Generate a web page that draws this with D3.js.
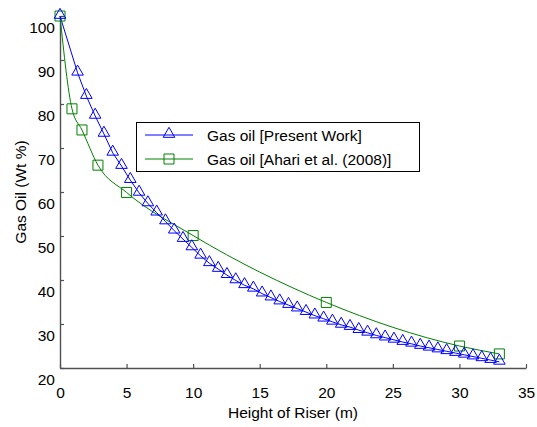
<!DOCTYPE html>
<html>
<head>
<meta charset="utf-8">
<script src="https://cdn.jsdelivr.net/npm/d3@7"></script>
<style>
  html, body { margin: 0; padding: 0; background: #fff; }
  svg { display: block; font-family: Arial, "Liberation Sans", sans-serif; }
</style>
</head>
<body>
<svg id="chart" width="537" height="427"></svg>
<script>
// ---- data ----
const xTicks = [0, 5, 10, 15, 20, 25, 30, 35];
const yTicks = [20, 30, 40, 50, 60, 70, 80, 90, 100];

const presentX = [0, 1.32, 1.98, 2.64, 3.30, 3.96, 4.62, 5.28, 5.94, 6.60, 7.26, 7.92, 8.58, 9.24, 9.90,
  10.56, 11.22, 11.88, 12.54, 13.20, 13.86, 14.52, 15.18, 15.84, 16.50, 17.16, 17.82, 18.48, 19.14, 19.80,
  20.46, 21.12, 21.78, 22.44, 23.10, 23.76, 24.42, 25.08, 25.74, 26.40, 27.06, 27.72, 28.38, 29.04, 29.70,
  30.36, 31.02, 31.68, 32.34, 33.00];
const presentY = [100, 87.1, 81.8, 77.3, 73.2, 68.9, 65.9, 62.7, 59.8, 57.4, 55.3, 53.3, 51.2, 49.3, 47.4,
  45.5, 43.8, 42.5, 41.1, 39.9, 38.8, 38.0, 36.9, 36.0, 35.1, 34.3, 33.5, 32.7, 31.9, 31.2,
  30.5, 29.8, 29.3, 28.6, 28.0, 27.4, 26.9, 26.4, 25.9, 25.5, 25.0, 24.6, 24.2, 23.8, 23.4,
  23.0, 22.6, 22.2, 21.8, 21.4];

const ahariX = [0, 0.9, 1.65, 2.85, 5, 10, 20, 30, 33];
const ahariY = [100, 78.9, 74.1, 66.1, 59.9, 50.1, 34.9, 25.0, 23.2];

const seriesNames = ["Gas oil [Present Work]", "Gas oil [Ahari et al. (2008)]"];
const xTitle = "Height of Riser (m)";
const yTitle = "Gas Oil (Wt %)";

// ---- layout ----
const svg = d3.select("#chart");
const FS = 15.5;
const x = d3.scaleLinear().domain([0, 35]).range([60, 526]);
const y = d3.scaleLinear().domain([20, 100]).range([368, 16]);
const axisColor = "#505050";

svg.append("rect").attr("width", 537).attr("height", 427).attr("fill", "#fff");

// axes
const gx = svg.append("g").attr("transform", `translate(0,${y(20)})`)
  .call(d3.axisBottom(x).tickValues(xTicks).tickSize(-4).tickSizeOuter(0).tickPadding(19));
const gy = svg.append("g").attr("transform", `translate(${x(0)},0)`)
  .call(d3.axisLeft(y).tickValues(yTicks).tickSize(-4).tickSizeOuter(0).tickPadding(5));

[gx, gy].forEach(g => {
  g.select(".domain").attr("stroke", axisColor).attr("stroke-width", 1.4);
  g.selectAll(".tick line").attr("stroke", axisColor).attr("stroke-width", 1.2);
  g.selectAll(".tick text").attr("fill", "#000").style("font-size", FS + "px")
    .style("font-family", 'Arial, "Liberation Sans", sans-serif');
});
gy.selectAll(".tick text").attr("y", 11.5);

// axis titles
svg.append("text").attr("x", x(17.5)).attr("y", 418).attr("text-anchor", "middle")
  .style("font-size", FS + "px").text(xTitle);
svg.append("text").attr("transform", `translate(26,${y(60)}) rotate(-90)`)
  .attr("text-anchor", "middle").style("font-size", FS + "px").text(yTitle);

// series
const blue = "#0000ff", green = "#008000";
const present = presentX.map((d, i) => [d, presentY[i]]);
const ahari = ahariX.map((d, i) => [d, ahariY[i]]);

svg.append("path").datum(ahari)
  .attr("d", d3.line().x(d => x(d[0])).y(d => y(d[1])).curve(d3.curveMonotoneX))
  .attr("fill", "none").attr("stroke", green).attr("stroke-width", 1);
svg.append("path").datum(present)
  .attr("d", d3.line().x(d => x(d[0])).y(d => y(d[1])))
  .attr("fill", "none").attr("stroke", blue).attr("stroke-width", 1);

const tri = d3.symbol().type(d3.symbolTriangle).size(58);
const sq = d3.symbol().type(d3.symbolSquare).size(100);

svg.append("g").selectAll("path").data(ahari).join("path")
  .attr("transform", d => `translate(${x(d[0])},${y(d[1])})`)
  .attr("d", sq).attr("fill", "none").attr("stroke", green).attr("stroke-width", 1);
svg.append("g").selectAll("path").data(present).join("path")
  .attr("transform", d => `translate(${x(d[0])},${y(d[1]) - 1})`)
  .attr("d", tri).attr("fill", "none").attr("stroke", blue).attr("stroke-width", 1);

// legend
const lg = svg.append("g");
lg.append("rect").attr("x", 136.5).attr("y", 122.5).attr("width", 283).attr("height", 49)
  .attr("fill", "#fff").attr("stroke", "#000").attr("stroke-width", 1);
const rows = [{ name: seriesNames[0], color: blue, sym: tri, yy: 135 },
              { name: seriesNames[1], color: green, sym: sq, yy: 159 }];
rows.forEach(r => {
  lg.append("line").attr("x1", 145).attr("x2", 193).attr("y1", r.yy).attr("y2", r.yy)
    .attr("stroke", r.color).attr("stroke-width", 1);
  lg.append("path").attr("transform", `translate(169,${r.sym === tri ? r.yy - 1 : r.yy})`)
    .attr("d", r.sym).attr("fill", "none").attr("stroke", r.color).attr("stroke-width", 1);
  lg.append("text").attr("x", 207).attr("y", r.yy + 5.5).style("font-size", FS + "px")
    .attr("fill", "#000").text(r.name);
});
</script>
</body>
</html>
